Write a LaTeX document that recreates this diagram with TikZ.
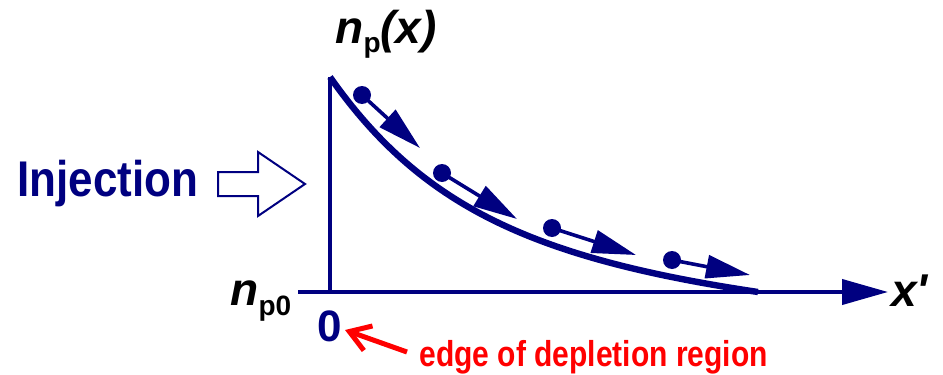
\documentclass[tikz,border=0pt]{standalone}
\usepackage{fontspec}
\setmainfont{Liberation Sans}
\usetikzlibrary{arrows.meta}
\definecolor{navyblue}{RGB}{0,0,128}
\definecolor{edgered}{RGB}{255,0,0}
\newcommand{\lowsub}[1]{\raisebox{-5pt}{\fontsize{14pt}{16pt}\selectfont\upshape #1}}
\newcommand{\tall}[2]{\scalebox{1}[#1]{#2}}

\begin{document}
\begin{tikzpicture}[x=0.5pt, y=-0.5pt,
    axis/.style={navyblue, line width=2pt},
    flow/.style={navyblue, line width=1.8pt, -{Triangle[length=22pt,width=11.5pt]}},
    carrier/.style={circle, fill=navyblue, inner sep=0pt, minimum size=9pt},
    lbl/.style={inner sep=0pt, font=\fontsize{23pt}{26pt}\selectfont\bfseries\itshape}]
    \useasboundingbox (0,0) rectangle (943,375);
    % axes
    \coordinate (xstart) at (298,292);
    \coordinate (xend) at (888,292);
    \coordinate (origin) at (330,292);
    \coordinate (ytop) at (330,77);
    \draw[axis, -{Triangle[length=23pt,width=12.5pt]}] (xstart) -- (xend);
    \draw[axis] (origin) -- (ytop);
    % excess carrier profile
    \coordinate (pend) at (758,292);
    \draw[navyblue, line width=3.2pt] (ytop) .. controls (420,205) and (530,258) .. (pend);
    % diffusing carriers
    \foreach \n/\p/\t in {1/{362,95}/{420,148}, 2/{442,173}/{517,219},
                          3/{552,228}/{636,255}, 4/{672,260}/{750,275}} {
        \node[carrier] (d\n) at (\p) {};
        \coordinate (t\n) at (\t);
        \draw[flow] (d\n.center) -- (t\n);
    }
    % labels
    \node[lbl, anchor=base west] (npx) at (335,43) {n\lowsub{p}(x)};
    \node[lbl, anchor=base west] (np0) at (230,305) {n\lowsub{p0}};
    \node[lbl, anchor=base west] (xprime) at (891,306) {x\textquotesingle};
    \node[navyblue, inner sep=0pt, font=\fontsize{22pt}{26pt}\selectfont\bfseries] (zero) at (330,326) {0};
    % injection
    \node[navyblue, inner sep=0pt, font=\fontsize{22pt}{26pt}\selectfont\bfseries] (inj) at (108,184) {\tall{1.14}{Injection}};
    \draw[navyblue, line width=1pt, fill=white] (218,172) -- (258,172) -- (258,152) -- (305,184)
        -- (258,216) -- (258,196) -- (218,196) -- cycle;
    % depletion edge
    \node[edgered, anchor=west, inner sep=0pt, font=\fontsize{15pt}{18pt}\selectfont\bfseries] (edgelbl) at (419,357) {\tall{1.2}{edge of depletion region}};
    \coordinate (etail) at (407,352);
    \coordinate (etip) at (345,330);
    \draw[edgered, line width=2.5pt, -{Straight Barb[length=10pt,width=13pt]}] (etail) -- (etip);
\end{tikzpicture}
\end{document}
